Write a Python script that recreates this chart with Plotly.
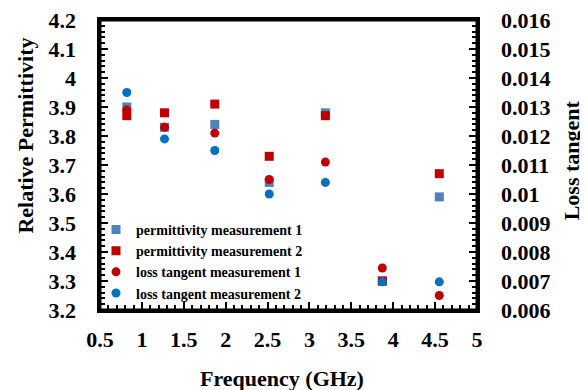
import plotly.graph_objects as go

freq = [0.82, 1.27, 1.87, 2.52, 3.19, 3.87, 4.55]
perm_1 = [3.90, 3.83, 3.84, 3.64, 3.88, 3.30, 3.59]
perm_2 = [3.87, 3.88, 3.91, 3.73, 3.87, 3.30, 3.67]
loss_1 = [0.0129, 0.0123, 0.0121, 0.0105, 0.0111, 0.00745, 0.0065]
loss_2 = [0.0135, 0.0119, 0.0115, 0.0100, 0.0104, 0.00697, 0.00697]

names = ["permittivity measurement 1", "permittivity measurement 2",
         "loss tangent measurement 1", "loss tangent measurement 2"]

FONT = "Liberation Serif, Times New Roman, serif"

fig = go.Figure()
fig.add_trace(go.Scatter(x=freq, y=perm_1, mode="markers", name=names[0],
                         marker=dict(symbol="square", size=9, color="#4F81BD")))
fig.add_trace(go.Scatter(x=freq, y=perm_2, mode="markers", name=names[1],
                         marker=dict(symbol="square", size=9, color="#C00000")))
fig.add_trace(go.Scatter(x=freq, y=loss_1, mode="markers", name=names[2], yaxis="y2",
                         marker=dict(symbol="circle", size=9, color="#C00000")))
fig.add_trace(go.Scatter(x=freq, y=loss_2, mode="markers", name=names[3], yaxis="y2",
                         marker=dict(symbol="circle", size=9, color="#0070C0")))

tickfont = dict(family=FONT, size=22, color="black", weight="bold")

fig.update_layout(
    width=580, height=382,
    margin=dict(l=92, r=111, t=12, b=80, autoexpand=False),
    paper_bgcolor="white", plot_bgcolor="white",
    showlegend=True,
    legend=dict(x=-0.0106, y=0.004, xanchor="left", yanchor="bottom",
                bgcolor="rgba(0,0,0,0)", itemwidth=30, tracegroupgap=0,
                font=dict(family=FONT, size=14, color="black", weight="bold")),
    xaxis=dict(range=[0.5, 5], dtick=0.5, tick0=0.5, showgrid=False, zeroline=False,
               automargin=False, ticklabeloverflow="allow",
               showline=True, linecolor="black", linewidth=3, mirror=True,
               ticks="inside", ticklen=8, tickwidth=2, tickcolor="black",
               minor=dict(dtick=0.1, ticks="inside", ticklen=5, tickwidth=1.5, tickcolor="black"),
               tickfont=tickfont, ticklabelstandoff=8),
    yaxis=dict(range=[3.2, 4.2], dtick=0.1, showgrid=False, zeroline=False,
               automargin=False, ticklabeloverflow="allow",
               showline=True, linecolor="black", linewidth=3, mirror=True,
               ticks="inside", ticklen=8, tickwidth=2, tickcolor="black",
               minor=dict(dtick=0.02, ticks="inside", ticklen=5, tickwidth=1.5, tickcolor="black"),
               tickfont=tickfont, ticksuffix="   "),
    yaxis2=dict(range=[0.006, 0.016], dtick=0.001, overlaying="y", side="right",
                showgrid=False, zeroline=False, automargin=False, ticklabeloverflow="allow",
                showline=True, linecolor="black", linewidth=3,
                ticks="inside", ticklen=8, tickwidth=2, tickcolor="black",
                minor=dict(dtick=0.0002, ticks="inside", ticklen=5, tickwidth=1.5, tickcolor="black"),
                tickfont=tickfont, tickprefix="   "),
)

fig.add_shape(type="rect", xref="x domain", yref="y domain", x0=0, x1=1, y0=0, y1=1,
              line=dict(color="black", width=3), layer="above")

titlefont = dict(family=FONT, size=22, color="black", weight="bold")
fig.add_annotation(text="Relative Permittivity", xref="paper", yref="paper",
                   x=-0.20, y=0.60, textangle=-90, showarrow=False,
                   xanchor="center", yanchor="middle", font=titlefont)
fig.add_annotation(text="Loss tangent", xref="paper", yref="paper",
                   x=1.25, y=0.517, textangle=-90, showarrow=False,
                   xanchor="center", yanchor="middle", font=titlefont)
fig.add_annotation(text="Frequency (GHz)", xref="paper", yref="paper",
                   x=0.483, y=-0.2345, showarrow=False,
                   xanchor="center", yanchor="middle", font=titlefont)

fig.write_html("out.html")
